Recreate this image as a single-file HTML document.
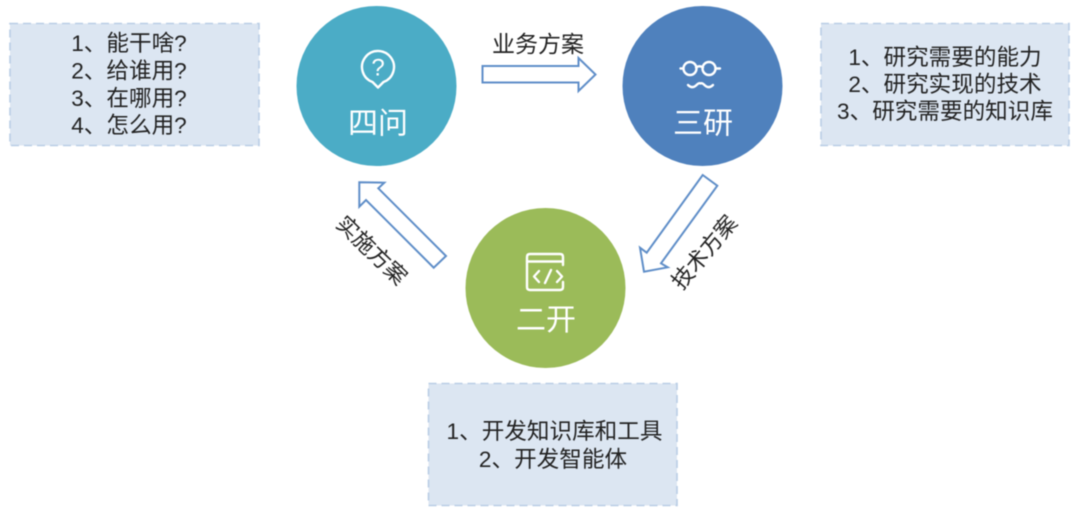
<!DOCTYPE html>
<html lang="zh">
<head>
<meta charset="utf-8">
<style>
html,body{margin:0;padding:0;background:#fff;width:1080px;height:524px;overflow:hidden}
svg{display:block;filter:blur(0.4px)}
text{font-family:"Liberation Sans","Noto Sans CJK SC",sans-serif}
.t{font-size:22.6px;fill:#222;text-anchor:middle}
.c{font-size:30px;fill:#fff;text-anchor:middle}
.l{font-size:23px;fill:#222;text-anchor:middle}
.r{font-size:22px;fill:#222;text-anchor:middle}
.a{fill:#fff;stroke:#5f8ec8;stroke-width:2}
.b{fill:#dce6f2;stroke:#b9cde5;stroke-width:1.6;stroke-dasharray:8 5}
.i{fill:none;stroke:#fff;stroke-width:2.4;stroke-linecap:round;stroke-linejoin:round}
</style>
</head>
<body>
<svg width="1080" height="524" viewBox="0 0 1080 524" xmlns="http://www.w3.org/2000/svg">
<rect width="1080" height="524" fill="#fff"/>

<!-- Boxes -->
<rect class="b" x="10" y="23.5" width="249" height="122"/>
<rect class="b" x="821" y="23.5" width="248" height="122"/>
<rect class="b" x="428.5" y="383.5" width="248.5" height="122"/>

<!-- Circles -->
<circle cx="376.5" cy="86" r="80" fill="#4bacc6"/>
<circle cx="702.5" cy="86" r="80" fill="#4f81bd"/>
<circle cx="545.5" cy="288" r="80" fill="#9bbb59"/>

<!-- Arrows -->
<polygon class="a" points="482.5,66 578.5,66 578.5,58 595.5,74.5 578.5,91 578.5,82.5 482.5,82.5"/>
<polygon class="a" points="702.7,175 717.3,185.7 661,263.3 667.7,267.3 644,271.7 640,247.7 646.7,252.7"/>
<polygon class="a" points="359.3,182.3 384.3,182.7 378.3,188.3 446,256 433.7,267.7 366,200 359.3,206.7"/>

<!-- Arrow labels -->
<text class="l" x="538" y="52">业务方案</text>
<text class="r" transform="translate(372,250) rotate(44)" y="8">实施方案</text>
<text class="r" transform="translate(704,252) rotate(-50)" y="8">技术方案</text>

<!-- Circle labels -->
<text class="c" x="378" y="133.5">四问</text>
<text class="c" x="703" y="133.5">三研</text>
<text class="c" x="546" y="330">二开</text>

<!-- Question bubble icon -->
<path class="i" d="M372.5 82 A16 16 0 1 1 383.5 82 L378 87.5 Z"/>
<text x="378" y="75.5" font-size="24" fill="#fff" text-anchor="middle">?</text>

<!-- Glasses and moustache icon -->
<circle class="i" cx="690" cy="68.5" r="6.5"/>
<circle class="i" cx="709" cy="68.5" r="6.5"/>
<path class="i" d="M696 67.5 Q699.5 65 703 67.5 M683.5 68.5 L680.5 68.5 M715.5 68.5 L720 68.5"/>
<path class="i" d="M688 85 Q692 89 696 85.5 Q699 82.5 700.5 83.5 Q702 82.5 705 85.5 Q709 89 713 85"/>

<!-- Code window icon -->
<path class="i" d="M563 265 L563 257 Q563 254 560 254 L530 254 Q527 254 527 257 L527 287 Q527 290 530 290 L560 290 Q563 290 563 287 L563 282"/>
<path class="i" d="M527 261.5 L563 261.5"/>
<path class="i" d="M539 271 L534 276.5 L539 282 M557 271 L562 276.5 L557 282 M551 270 L545 283"/>

<!-- Box 1 -->
<text class="t" x="129" y="51">1、能干啥?</text>
<text class="t" x="129" y="78.5">2、给谁用?</text>
<text class="t" x="129" y="106">3、在哪用?</text>
<text class="t" x="129" y="133">4、怎么用?</text>

<!-- Box 2 -->
<text class="t" x="945" y="65">1、研究需要的能力</text>
<text class="t" x="945" y="92">2、研究实现的技术</text>
<text class="t" x="945" y="119">3、研究需要的知识库</text>

<!-- Box 3 -->
<text class="t" x="554.5" y="439">1、开发知识库和工具</text>
<text class="t" x="553" y="467">2、开发智能体</text>
</svg>
</body>
</html>
